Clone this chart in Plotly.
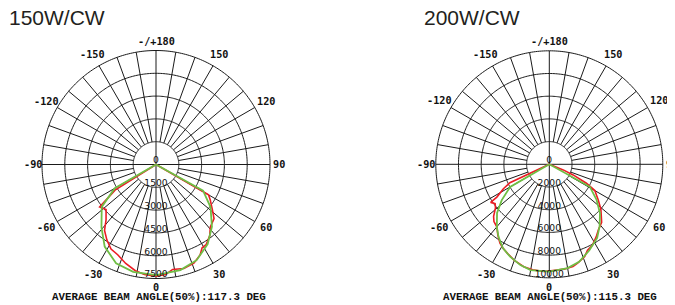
import numpy as np
import plotly.graph_objects as go

W, H = 675, 305
PAGE_OFF = 8.0  # browser default body margin

# ---------------- data ----------------
# 150W/CW
theta_150_red = [-90, -58, -56, -53, -48, -42, -38, -33, -28, -23, -17, -11, -6, 0, 5, 9, 15, 21, 26, 29,
                 32, 37, 41, 47, 51, 57, 60, 90]
r_150_red = [0, 3180, 3630, 4640, 4420, 4910, 5500, 5930, 6300, 6450, 6810, 7120, 7280, 7340, 7260, 6990,
             7080, 6950, 6620, 6260, 6220, 5870, 5450, 5220, 4780, 4250, 3990, 0]
theta_150_green = [-90, -60, -52, -41, -32, -22, -12, 0, 13, 23, 33, 42, 52, 61, 90]
r_150_green = [0, 3130, 4530, 5470, 6370, 7010, 7220, 7280, 7130, 6840, 6240, 5500, 4550, 3540, 0]

# 200W/CW
theta_200_red = [-90, -65, -62, -58, -57, -54, -51, -47, -44, -40, -36, -32, -29, -25, -20, -14, -9, -3,
                 2, 8, 13, 16, 21, 24, 28, 33, 37, 42, 45, 49, 54, 60, 63, 66, 68, 90]
r_200_red = [0, 3830, 4580, 5450, 6160, 5900, 6100, 6710, 7020, 7190, 7710, 8200, 8430, 8680, 9000, 9300,
             9410, 9460, 9360, 9330, 9250, 9050, 8700, 8280, 8080, 7600, 7200, 6890, 6480, 6020, 5320,
             4630, 3670, 2300, 1320, 0]
theta_200_green = [-90, -60, -53, -47, -40, -35, -29, -23, -16, -10, 0, 10, 17, 25, 33, 39, 46, 53, 61, 90]
r_200_green = [0, 3985, 5245, 6296, 7190, 7800, 8440, 8840, 9240, 9465, 9457, 9290, 8990, 8356, 7740,
               7040, 6210, 5220, 4090, 0]

rticks_150 = [1500, 3000, 4500, 6000, 7500]
rticks_200 = [2000, 4000, 6000, 8000, 10000]
angle_ticks = [0, 30, 60, 90, 120, 150, 180, -150, -120, -90, -60, -30]
angle_labels = ["0", "30", "60", "90", "120", "150", "-/+180", "-150", "-120", "-90", "-60", "-30"]
titles = ["150W/CW", "200W/CW"]
beam_texts = ["AVERAGE BEAM ANGLE(50%):117.3 DEG", "AVERAGE BEAM ANGLE(50%):115.3 DEG"]

# ---------------- styling / layout ----------------
RED = "#ec1c24"
GREEN = "#6fbe44"
GRID = "#1a1a1a"

charts = [
    dict(name="polar", cx=156.0, cy=164.5, rout=114.0, ticks=rticks_150,
         red=(theta_150_red, r_150_red), green=(theta_150_green, r_150_green),
         title=titles[0], tx=7, beam=beam_texts[0], bx=159),
    dict(name="polar2", cx=549.3, cy=164.3, rout=113.5, ticks=rticks_200,
         red=(theta_200_red, r_200_red), green=(theta_200_green, r_200_green),
         title=titles[1], tx=422, beam=beam_texts[1], bx=550),
]


def px_x(x):
    return (x - PAGE_OFF) / W


def px_y(y):
    return 1 - (y - PAGE_OFF) / H


fig = go.Figure()
annotations = []
layout_polars = {}

for ch in charts:
    sub = ch["name"]
    rmax = ch["ticks"][-1]
    rd = ch["rout"] + 5.0  # domain radius in px
    scale = rmax / ch["rout"]  # data units per px
    layout_polars[sub] = dict(
        domain=dict(x=[px_x(ch["cx"] - rd), px_x(ch["cx"] + rd)],
                    y=[px_y(ch["cy"] + rd), px_y(ch["cy"] - rd)]),
        bgcolor="white",
        radialaxis=dict(range=[0, rd * scale], visible=False),
        angularaxis=dict(rotation=-90, direction="counterclockwise", showgrid=False,
                         showline=False, showticklabels=False, ticks=""),
    )

    # grid circles
    circ = np.arange(0, 361, 1)
    for rv in ch["ticks"]:
        fig.add_trace(go.Scatterpolar(r=[rv] * len(circ), theta=circ, mode="lines", subplot=sub,
                                      line=dict(color=GRID, width=1), hoverinfo="skip",
                                      showlegend=False, cliponaxis=False))
    # spokes every 10 deg from first ring outward
    rr, tt = [], []
    for a in range(0, 360, 10):
        if a % 90 == 0:
            rr += [0, rmax, None]
        else:
            rr += [ch["ticks"][0], rmax, None]
        tt += [a, a, None]
    fig.add_trace(go.Scatterpolar(r=rr, theta=tt, mode="lines", subplot=sub,
                                  line=dict(color=GRID, width=1), hoverinfo="skip",
                                  showlegend=False, cliponaxis=False))

    # data curves
    fig.add_trace(go.Scatterpolar(r=ch["red"][1], theta=ch["red"][0], mode="lines", subplot=sub,
                                  line=dict(color=RED, width=1.6), showlegend=False))
    fig.add_trace(go.Scatterpolar(r=ch["green"][1], theta=ch["green"][0], mode="lines", subplot=sub,
                                  line=dict(color=GREEN, width=1.8), showlegend=False))

    # radial labels
    off = 3.3 * scale
    fig.add_trace(go.Scatterpolar(r=[off] + [v - off for v in ch["ticks"]],
                                  theta=[180] + [0] * len(ch["ticks"]),
                                  text=["0"] + [str(v) for v in ch["ticks"]],
                                  mode="text", textposition="middle center", subplot=sub,
                                  textfont=dict(family="DejaVu Sans", size=9.2, color="#111"),
                                  hoverinfo="skip", showlegend=False, cliponaxis=False))

    # angular labels
    for a, lab in zip(angle_ticks, angle_labels):
        ar = np.deg2rad(a)
        rpx = 123 + 4.5 * abs(np.sin(2 * ar))
        px = ch["cx"] + rpx * np.sin(ar)
        py = ch["cy"] + rpx * np.cos(ar)
        annotations.append(dict(x=px_x(px), y=px_y(py), xref="paper", yref="paper", text=lab,
                                showarrow=False, xanchor="center", yanchor="middle",
                                font=dict(family="DejaVu Sans Mono", size=10.2, color="#111",
                                          weight="bold")))

    # title
    annotations.append(dict(x=px_x(ch["tx"]), y=px_y(17.5), xref="paper", yref="paper",
                            text=ch["title"], showarrow=False, xanchor="left", yanchor="middle",
                            font=dict(family="Liberation Sans", size=21, color="#231f20")))
    # beam angle text
    annotations.append(dict(x=px_x(ch["bx"]), y=px_y(296.5), xref="paper", yref="paper",
                            text=ch["beam"], showarrow=False, xanchor="center", yanchor="middle",
                            font=dict(family="Liberation Mono", size=10.8, color="#111", weight="bold")))

fig.update_layout(
    width=W, height=H,
    margin=dict(l=0, r=0, t=0, b=0),
    paper_bgcolor="white",
    plot_bgcolor="white",
    showlegend=False,
    annotations=annotations,
    **layout_polars,
)

fig.write_html("out.html")
